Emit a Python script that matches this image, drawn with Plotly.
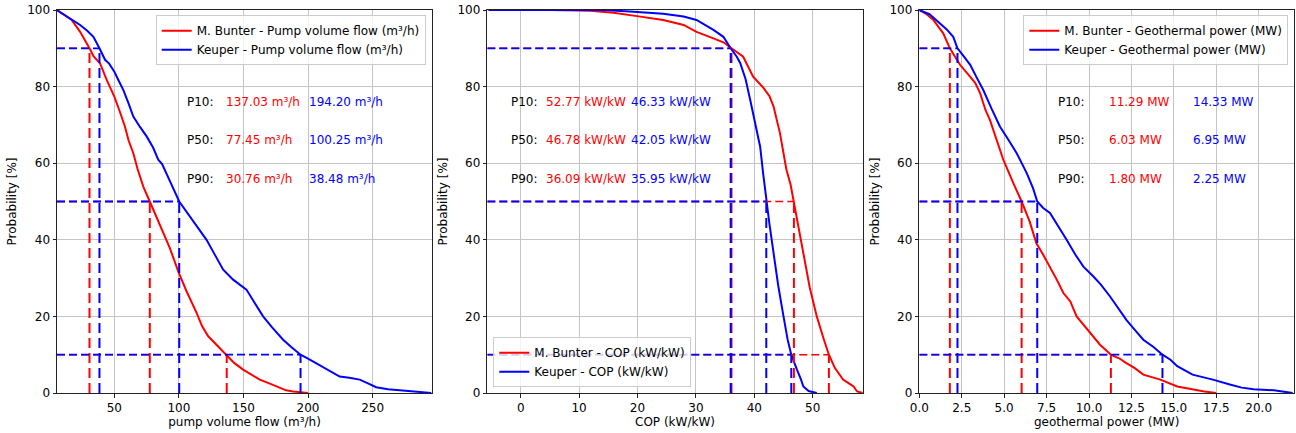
import plotly.graph_objects as go

# ---------------- data ----------------
# Panel 1: pump volume flow (m3/h) exceedance curves
flow_bunter_x = [5.4, 11, 17, 23.5, 27, 30.76, 34, 38.9, 44, 50, 54, 58.2, 61, 64.7, 68, 72.4, 77.45, 82, 87.9, 93, 100, 106, 113.7, 118, 122.7, 130, 137.03, 143, 149.7, 156, 162.6, 170, 178, 183, 188.4, 195, 200]
flow_bunter_y = [100, 98.8, 97.4, 94.3, 92.3, 90, 87.9, 86.1, 81.8, 77.4, 73.7, 69.6, 66.0, 62.6, 58.5, 53.9, 50, 46.3, 41.7, 37.8, 31.3, 26.5, 20.9, 17.4, 14.8, 12.3, 10, 7.8, 6.1, 4.9, 3.5, 2.5, 1.3, 0.7, 0.4, 0.2, 0]
flow_keuper_x = [5.4, 14, 23.5, 29, 33.8, 38.48, 42.8, 46, 50, 53, 57, 61, 64.7, 70, 75, 80, 84, 87, 90.5, 95, 100.25, 104, 108.5, 115, 121.4, 128, 134.3, 142, 152.3, 158, 165.2, 172, 180.7, 187, 194.2, 200, 206.4, 215, 224.5, 232, 240, 246, 252.8, 262, 270.9, 282, 295.4]
flow_keuper_y = [100, 98.2, 96.1, 94.6, 93, 90, 87, 86.0, 83.9, 81.8, 79.1, 75.6, 72.2, 69.4, 67, 64.1, 60.9, 59.8, 57.4, 53.9, 50, 48.2, 46.1, 43.1, 40, 36.0, 32.2, 29.6, 27, 23.9, 20, 17.2, 13.9, 12.0, 10, 9.0, 7.8, 6.1, 4.3, 4.0, 3.5, 2.6, 1.5, 1.0, 0.7, 0.3, 0]

# Panel 2: COP (kW/kW)
cop_bunter_x = [-5.5, 5, 11.9, 15.9, 19.9, 24.4, 27.9, 30.1, 33, 34.8, 36.09, 38.1, 39.8, 41.6, 42.6, 43.3, 44.4, 45.0, 45.5, 46.2, 46.78, 47.6, 48.4, 49.5, 50.7, 51.8, 52.77, 53.8, 55.2, 56.2, 57, 57.6, 58.6]
cop_bunter_y = [100, 100, 99.8, 99.3, 98.4, 97.4, 96.1, 94.3, 92.6, 91.5, 90, 87.8, 82.6, 79.6, 77.5, 74.8, 67.8, 62.5, 58.3, 54.5, 50, 43.5, 36.5, 27.5, 20, 14.5, 10, 6.5, 3.5, 2.5, 1.7, 0.4, 0]
cop_keuper_x = [-5.5, 5, 14.2, 18.7, 24.4, 27.9, 30.1, 33, 34.7, 35.95, 37.0, 37.6, 38.5, 39.3, 40.2, 41, 41.5, 42.05, 42.6, 43.3, 44.1, 45, 45.7, 46.33, 46.8, 47.3, 48.0, 48.4, 49.3, 50.7]
cop_keuper_y = [100, 100, 100, 99.6, 99, 98.3, 97.4, 94.8, 93, 90, 87.8, 86.1, 82.0, 76.5, 70.5, 64.3, 57.5, 50, 44, 36.5, 28, 20, 14, 10, 8.0, 6.1, 3.5, 1.7, 0.5, 0]

# Panel 3: geothermal power (MW)
pow_bunter_x = [0, 0.4, 0.83, 1.41, 1.80, 2.1, 2.4, 2.99, 3.3, 3.58, 3.9, 4.16, 4.55, 4.95, 5.54, 6.03, 6.5, 6.9, 7.3, 7.7, 8.1, 8.49, 8.9, 9.27, 9.7, 10.06, 10.65, 11.29, 11.8, 12.2, 12.7, 13.2, 14.2, 15.2, 16.1, 16.8, 17.5]
pow_bunter_y = [100, 99.0, 97.4, 93.9, 90, 87.8, 85.7, 82.6, 80.9, 78.3, 73.9, 71.3, 66.1, 60.9, 54.8, 50, 44.8, 39.1, 36.1, 33, 29.6, 26.1, 23.9, 20, 17.6, 15.7, 12.6, 10, 9.0, 7.8, 6.5, 4.8, 3.5, 1.7, 0.9, 0.4, 0]
pow_keuper_x = [0, 0.6, 1.22, 1.6, 2.0, 2.25, 2.6, 3.0, 3.4, 3.77, 4.25, 4.75, 5.25, 5.74, 6.33, 6.7, 6.95, 7.3, 7.7, 8.2, 8.68, 9.2, 9.67, 10.26, 10.7, 11.24, 11.7, 12.2, 12.7, 13.2, 13.8, 14.33, 14.8, 15.2, 16.1, 17.3, 18.3, 19.0, 19.7, 20.9, 22.0]
pow_keuper_y = [100, 98.9, 96.5, 95.0, 93, 90, 88.0, 85.7, 82.2, 79.1, 74.3, 69.6, 66.1, 62.6, 57.4, 53.5, 50, 48.3, 47, 43.5, 40, 36.1, 33, 30.4, 28.3, 25.2, 22.2, 19.1, 16.5, 13.9, 12.0, 10, 8.7, 7, 4.8, 3.5, 2.2, 1.4, 1.0, 0.7, 0]

levels = [10, 50, 90]
label_names = ["P10:", "P50:", "P90:"]

flow_bunter_p = [137.03, 77.45, 30.76]   # P10, P50, P90
flow_keuper_p = [194.20, 100.25, 38.48]
cop_bunter_p = [52.77, 46.78, 36.09]
cop_keuper_p = [46.33, 42.05, 35.95]
pow_bunter_p = [11.29, 6.03, 1.80]
pow_keuper_p = [14.33, 6.95, 2.25]

x_titles = ["pump volume flow (m³/h)", "COP (kW/kW)", "geothermal power (MW)"]
legend_names = [
    ("M. Bunter - Pump volume flow (m³/h)", "Keuper - Pump volume flow (m³/h)"),
    ("M. Bunter - COP (kW/kW)", "Keuper - COP (kW/kW)"),
    ("M. Bunter - Geothermal power (MW)", "Keuper - Geothermal power (MW)"),
]
units = [" m³/h", " kW/kW", " MW"]

# ---------------- figure ----------------
RED = "#ff0000"
BLUE = "#0000ff"
FONT = "DejaVu Sans"
FS = 12
W, H = 1296, 433


def fx(px):
    return px / W


def fy(py):
    return 1 - py / H


panels = [
    dict(bx=flow_bunter_x, by=flow_bunter_y, kx=flow_keuper_x, ky=flow_keuper_y,
         bp=flow_bunter_p, kp=flow_keuper_p, xr=[5.6, 296],
         ticks=[50, 100, 150, 200, 250], fmt="d",
         dom=[fx(57), fx(432)], txt=[0.342, 0.445, 0.667]),
    dict(bx=cop_bunter_x, by=cop_bunter_y, kx=cop_keuper_x, ky=cop_keuper_y,
         bp=cop_bunter_p, kp=cop_keuper_p, xr=[-5.72, 58.56],
         ticks=[0, 10, 20, 30, 40, 50], fmt="d",
         dom=[fx(487.3), fx(862.7)], txt=[0.0586, 0.152, 0.377]),
    dict(bx=pow_bunter_x, by=pow_bunter_y, kx=pow_keuper_x, ky=pow_keuper_y,
         bp=pow_bunter_p, kp=pow_keuper_p, xr=[0, 22.08],
         ticks=[0, 2.5, 5, 7.5, 10, 12.5, 15, 17.5, 20], fmt=".1f",
         dom=[fx(919.3), fx(1294)], txt=[0.364, 0.50, 0.725]),
]

legend_pos = [
    dict(x=fx(425.7), y=fy(15.3), xanchor="right", yanchor="top"),
    dict(x=fx(493.3), y=fy(387.3), xanchor="left", yanchor="bottom"),
    dict(x=fx(1288.3), y=fy(15.3), xanchor="right", yanchor="top"),
]

fig = go.Figure()
annotations = []
layout = {}

for i, p in enumerate(panels):
    n = "" if i == 0 else str(i + 1)
    xa, ya = "x" + n, "y" + n
    lg = "legend" + n
    xmin = p["xr"][0]

    for (cx, cy, col, name) in [
        (p["bx"], p["by"], RED, legend_names[i][0]),
        (p["kx"], p["ky"], BLUE, legend_names[i][1]),
    ]:
        fig.add_trace(go.Scatter(x=cx, y=cy, mode="lines", name=name,
                                 line=dict(color=col, width=2),
                                 xaxis=xa, yaxis=ya, legend=lg, showlegend=True,
                                 hoverinfo="skip"))
    for (pv, col, hw) in [(p["bp"], RED, 1.5), (p["kp"], BLUE, 1.8)]:
        for val, lev in zip(pv, levels):
            fig.add_trace(go.Scatter(x=[val, val], y=[0, lev], mode="lines",
                                     line=dict(color=col, width=2, dash="10px,5px"),
                                     xaxis=xa, yaxis=ya, showlegend=False, hoverinfo="skip"))
            fig.add_trace(go.Scatter(x=[xmin, val], y=[lev, lev], mode="lines",
                                     line=dict(color=col, width=hw, dash="8px,4px"),
                                     xaxis=xa, yaxis=ya, showlegend=False, hoverinfo="skip"))

    # P-text annotations
    text_y = [76, 66, 56]
    for j in range(3):
        annotations.append(dict(x=p["txt"][0], y=text_y[j], xref=xa + " domain", yref=ya,
                                text=label_names[j], showarrow=False, xanchor="left", yanchor="middle",
                                font=dict(family=FONT, size=FS, color="black")))
        annotations.append(dict(x=p["txt"][1], y=text_y[j], xref=xa + " domain", yref=ya,
                                text=f"{p['bp'][j]:.2f}{units[i]}", showarrow=False,
                                xanchor="left", yanchor="middle",
                                font=dict(family=FONT, size=FS, color=RED)))
        annotations.append(dict(x=p["txt"][2], y=text_y[j], xref=xa + " domain", yref=ya,
                                text=f"{p['kp'][j]:.2f}{units[i]}", showarrow=False,
                                xanchor="left", yanchor="middle",
                                font=dict(family=FONT, size=FS, color=BLUE)))

    axis_common = dict(showline=True, linecolor="#222", linewidth=1, mirror=True,
                       ticks="outside", ticklen=3.5, tickwidth=0.8, tickcolor="#222",
                       showgrid=True, gridcolor="#c4c4c4", gridwidth=0.8,
                       zeroline=False, automargin=False, ticklabeloverflow="allow",
                       tickfont=dict(family=FONT, size=FS, color="black"))
    layout["xaxis" + n] = dict(domain=p["dom"], range=p["xr"], anchor=ya,
                               tickmode="array", tickvals=p["ticks"],
                               ticktext=[format(t, p["fmt"]) if p["fmt"] != "d" else str(int(t)) for t in p["ticks"]],
                               title=dict(text=x_titles[i], standoff=1,
                                          font=dict(family=FONT, size=FS, color="black")),
                               **axis_common)
    layout["yaxis" + n] = dict(domain=[fy(393), fy(10)], range=[0, 100], anchor=xa,
                               tickmode="array", tickvals=[0, 20, 40, 60, 80, 100],
                               title=dict(text="Probability [%]", standoff=7,
                                          font=dict(family=FONT, size=FS, color="black")),
                               **axis_common)
    layout[lg] = dict(**legend_pos[i], bgcolor="rgba(255,255,255,0.8)",
                      bordercolor="#cccccc", borderwidth=1,
                      font=dict(family=FONT, size=FS, color="black"),
                      itemwidth=30, tracegroupgap=0)

fig.update_layout(**layout)
fig.update_layout(width=W, height=H, margin=dict(l=0, r=0, t=0, b=0),
                  paper_bgcolor="white", plot_bgcolor="white",
                  annotations=annotations, font=dict(family=FONT, size=FS))

# remove the browser's default 8px body margin so the figure fills the window
fig.write_html("out.html", config={"displayModeBar": False},
               post_script="document.body.style.margin='0';document.body.style.overflow='hidden';")
